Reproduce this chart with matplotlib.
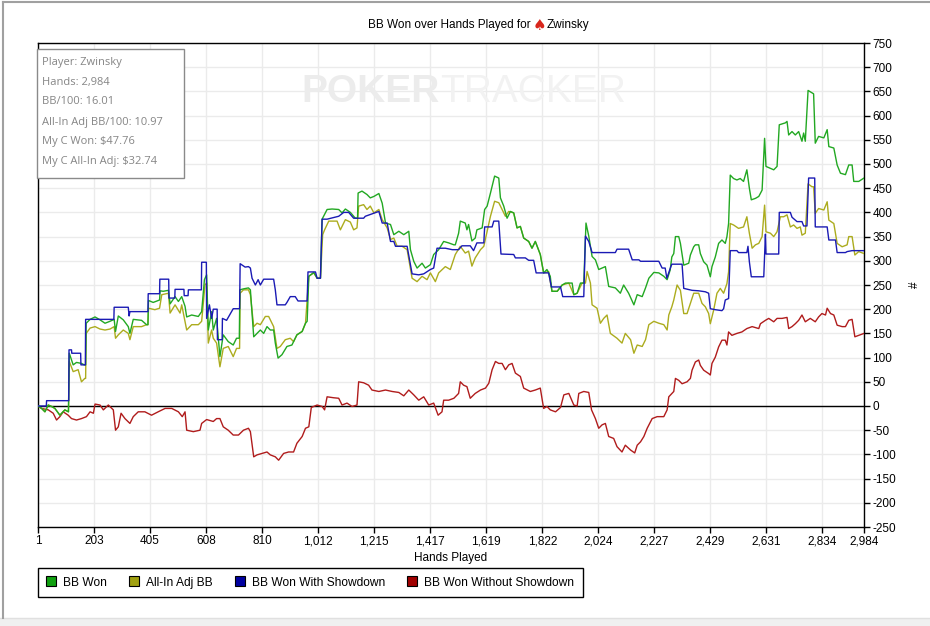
import matplotlib
matplotlib.use("Agg")
import matplotlib.pyplot as plt
from matplotlib.lines import Line2D
from matplotlib.patches import Rectangle

# (hand, BB) points
bb_won = [
    (1, 0), (14, -5), (26, -12), (38, 2), (50, -1), (62, -5), (80, -19), (98, -8), (111, -12), (114, 109),
    (128, 85), (140, 90), (158, 88), (168, 85), (173, 85), (175, 171), (189, 179), (207, 184), (225, 178),
    (243, 171), (261, 175), (276, 179), (281, 154), (291, 186), (309, 178), (327, 164), (333, 150), (345, 179),
    (375, 177), (393, 168), (398, 168), (400, 218), (417, 214), (440, 219), (442, 238), (453, 237), (472, 239),
    (478, 211), (496, 226), (508, 216), (520, 226), (532, 206), (538, 184), (556, 188), (580, 185), (592, 195),
    (602, 261), (610, 271), (616, 157), (628, 195), (634, 157), (646, 181), (658, 102), (670, 147), (688, 133),
    (706, 126), (718, 140), (728, 140), (730, 240), (743, 242), (761, 244),
    (768, 240), (780, 143), (792, 150), (804, 157), (816, 150), (828, 164), (840, 157), (852, 157), (858, 130),
    (868, 99), (882, 106), (900, 123), (918, 126), (936, 147), (955, 154), (967, 171), (973, 175), (979, 268),
    (997, 276), (1009, 264), (1021, 264), (1027, 386), (1045, 406), (1063, 407), (1087, 406), (1099, 399),
    (1111, 407), (1129, 400), (1147, 388), (1155, 388), (1157, 440), (1171, 444), (1189, 437), (1201, 430),
    (1214, 433), (1232, 439), (1244, 419), (1256, 378), (1274, 375), (1286, 354), (1304, 361), (1322, 354),
    (1340, 361), (1346, 323), (1358, 299), (1370, 285), (1388, 295), (1400, 285), (1418, 292), (1430, 313),
    (1448, 323), (1466, 340), (1484, 337), (1503, 333),
    (1508, 333), (1520, 357), (1526, 382), (1544, 378), (1550, 364), (1556, 375), (1568, 341), (1580, 347),
    (1586, 364), (1605, 368), (1614, 406), (1623, 413), (1635, 440), (1650, 475), (1665, 471), (1671, 430),
    (1683, 413), (1695, 388), (1707, 402), (1719, 399), (1731, 368), (1743, 371), (1755, 347), (1773, 340),
    (1785, 326), (1797, 340), (1815, 313), (1827, 275), (1839, 282), (1851, 268), (1857, 237), (1876, 237),
    (1894, 250), (1906, 254), (1930, 254), (1936, 230), (1948, 233), (1960, 254), (1972, 254), (1980, 378),
    (1990, 351), (2002, 309), (2014, 302), (2026, 282), (2038, 285), (2050, 288), (2062, 247), (2086, 244),
    (2104, 233), (2116, 250), (2134, 233), (2153, 209), (2165, 230), (2183, 226), (2195, 244), (2207, 264),
    (2225, 276), (2243, 275), (2261, 268), (2273, 261),
    (2284, 281), (2290, 308), (2297, 315), (2303, 350), (2315, 350), (2321, 336), (2333, 291), (2351, 295),
    (2357, 312), (2369, 329), (2375, 333), (2387, 333), (2393, 315), (2405, 298), (2417, 291), (2429, 267),
    (2435, 288), (2447, 308), (2459, 336), (2471, 343), (2483, 336), (2489, 350), (2495, 377), (2501, 477),
    (2513, 470), (2525, 467), (2537, 470), (2549, 464), (2561, 488), (2570, 450), (2577, 426), (2592, 429),
    (2604, 433), (2616, 446), (2625, 553), (2630, 495), (2646, 491), (2658, 488), (2670, 495), (2678, 581),
    (2700, 585), (2706, 588), (2712, 560), (2724, 567), (2736, 560), (2748, 567), (2760, 547), (2766, 564),
    (2772, 547), (2782, 652), (2802, 645), (2808, 543), (2820, 557), (2839, 554), (2851, 571), (2857, 536),
    (2875, 533), (2887, 498), (2899, 481), (2917, 478), (2929, 498), (2941, 498), (2947, 464), (2965, 464),
    (2984, 471),
]

allin_adj = [
    (1, 0), (14, -5), (26, -12), (38, 2), (50, -1), (62, -5), (80, -19), (98, -8), (111, -12), (114, 92),
    (128, 71), (146, 75), (158, 50), (170, 57), (173, 57), (175, 150), (189, 161), (207, 164), (225, 159),
    (243, 157), (261, 159), (276, 164), (281, 140), (291, 147), (309, 157), (327, 150), (333, 137), (345, 164),
    (375, 164), (393, 168), (398, 168), (400, 202), (423, 199), (440, 202), (448, 230), (472, 233), (478, 192),
    (496, 209), (514, 192), (520, 209), (538, 157), (556, 168), (580, 168), (592, 175), (604, 250), (610, 254),
    (616, 130), (628, 157), (634, 140), (646, 130), (658, 81), (670, 119), (688, 123), (706, 102), (718, 119),
    (729, 119), (731, 233), (743, 240), (761, 240),
    (768, 230), (780, 164), (792, 171), (804, 168), (822, 185), (834, 185), (846, 171), (852, 164), (864, 119),
    (876, 123), (894, 137), (912, 140), (924, 133), (936, 147), (955, 154), (967, 171), (979, 268), (997, 275),
    (1009, 264), (1021, 264), (1029, 354), (1036, 364), (1051, 382), (1081, 382), (1093, 364), (1111, 385),
    (1129, 380), (1141, 364), (1153, 368), (1159, 413), (1177, 416), (1189, 406), (1201, 413), (1214, 399),
    (1232, 406), (1244, 385), (1262, 368), (1274, 344), (1286, 347), (1298, 330), (1316, 330), (1334, 323),
    (1352, 264), (1370, 257), (1388, 268), (1406, 261), (1418, 275), (1436, 257), (1448, 275), (1472, 288),
    (1490, 282),
    (1508, 313), (1526, 330), (1544, 316), (1556, 320), (1568, 289), (1580, 306), (1599, 323), (1611, 330),
    (1623, 361), (1635, 392), (1650, 423), (1665, 420), (1677, 406), (1689, 392), (1701, 402), (1719, 399),
    (1731, 368), (1743, 371), (1755, 347), (1773, 340), (1785, 326), (1797, 340), (1815, 313), (1827, 275),
    (1845, 278), (1857, 237), (1876, 237), (1894, 250), (1918, 254), (1936, 230), (1948, 233), (1966, 254),
    (1978, 254), (1984, 278), (1996, 254), (2002, 209), (2020, 202), (2032, 171), (2044, 181), (2056, 188),
    (2068, 150), (2092, 140), (2110, 130), (2122, 150), (2141, 137), (2153, 109), (2165, 126), (2183, 123),
    (2195, 137), (2207, 168), (2225, 175), (2243, 171), (2261, 168), (2273, 157),
    (2279, 188), (2290, 205), (2297, 219), (2309, 250), (2321, 239), (2333, 191), (2345, 191), (2357, 212),
    (2369, 233), (2387, 233), (2399, 212), (2411, 205), (2423, 191), (2429, 170), (2441, 198), (2453, 233),
    (2465, 243), (2477, 233), (2489, 253), (2495, 277), (2501, 377), (2513, 374), (2531, 367), (2549, 370),
    (2561, 391), (2570, 357), (2580, 326), (2592, 333), (2604, 336), (2616, 350), (2625, 415), (2630, 360),
    (2646, 357), (2658, 350), (2670, 360), (2682, 391), (2694, 391), (2706, 395), (2718, 370), (2730, 374),
    (2742, 367), (2754, 370), (2760, 353), (2772, 357), (2782, 459), (2796, 453), (2802, 453), (2808, 398),
    (2820, 408), (2839, 405), (2851, 422), (2857, 384), (2875, 377), (2887, 336), (2905, 329), (2923, 333),
    (2929, 350), (2941, 350), (2951, 312), (2965, 319), (2984, 315),
]

with_showdown = [
    (1, 0), (31, 0), (32, 11), (112, 11), (113, 116), (122, 116), (123, 109), (155, 109), (156, 85), (172, 85),
    (173, 179), (275, 179), (276, 204), (327, 204), (330, 186), (333, 195), (398, 195), (399, 232), (440, 232),
    (441, 262), (473, 262), (474, 223), (495, 223), (496, 241), (528, 241), (529, 228), (543, 228), (544, 240),
    (591, 240), (592, 297), (609, 297), (610, 181), (620, 209), (628, 181), (634, 200), (648, 200), (649, 137),
    (666, 137), (667, 181), (682, 177), (706, 201), (729, 201), (731, 294), (749, 287), (761, 288),
    (768, 285), (774, 264), (786, 250), (796, 261), (804, 250), (816, 262), (852, 262), (858, 240), (864, 209),
    (894, 209), (900, 214), (912, 226), (930, 226), (940, 217), (973, 217), (976, 277), (1003, 277), (1009, 264),
    (1021, 264), (1027, 386), (1045, 386), (1087, 392), (1105, 400), (1123, 400), (1141, 388), (1177, 388),
    (1183, 392), (1232, 402), (1244, 378), (1262, 378), (1274, 340), (1286, 340), (1292, 330), (1334, 330),
    (1352, 273), (1376, 271), (1394, 273), (1418, 282), (1430, 285), (1442, 326), (1472, 326), (1497, 323),
    (1520, 323), (1532, 331), (1562, 331), (1574, 321), (1586, 337), (1611, 337), (1614, 370), (1641, 370),
    (1647, 382), (1665, 382), (1673, 314), (1719, 313), (1725, 306), (1761, 306), (1773, 301), (1791, 301),
    (1800, 275), (1845, 275), (1855, 246), (1888, 246), (1896, 226), (1972, 226), (1978, 351), (1990, 340),
    (2002, 317), (2086, 317), (2092, 324), (2134, 324), (2147, 302), (2171, 302), (2177, 299), (2243, 299),
    (2255, 285), (2266, 285), (2272, 264),
    (2284, 284), (2290, 293), (2327, 293), (2333, 243), (2363, 239), (2387, 238), (2411, 236), (2423, 233),
    (2429, 201), (2447, 199), (2471, 197), (2477, 201), (2483, 219), (2495, 222), (2501, 321), (2525, 321),
    (2531, 317), (2561, 317), (2565, 330), (2570, 298), (2577, 267), (2622, 267), (2628, 355), (2630, 314),
    (2676, 314), (2678, 400), (2718, 400), (2724, 390), (2742, 381), (2760, 381), (2766, 372), (2778, 372),
    (2784, 471), (2806, 471), (2808, 370), (2851, 370), (2857, 343), (2881, 343), (2887, 317), (2917, 317),
    (2923, 319), (2941, 321), (2984, 321),
]

without_showdown = [
    (1, 0), (14, -5), (38, -8), (56, -15), (68, -29), (80, -22), (92, -12), (110, -19), (122, -26), (140, -29),
    (158, -26), (176, -22), (189, -12), (201, -15), (207, 4), (225, 2), (237, -8), (255, 2), (273, -8),
    (281, -50), (291, -43), (301, -15), (315, -26), (333, -36), (345, -22), (363, -12), (387, -12), (411, -19),
    (435, -12), (460, -5), (484, -5), (508, -12), (522, -22), (532, -12), (538, -50), (562, -53), (586, -50),
    (592, -36), (610, -28), (634, -32), (646, -26), (658, -26), (670, -43), (688, -50), (706, -60), (725, -60),
    (743, -50), (761, -46),
    (768, -53), (780, -105), (792, -101), (810, -98), (828, -95), (840, -101), (858, -105), (870, -112),
    (888, -98), (906, -95), (924, -95), (936, -77), (955, -63), (967, -46), (979, -43), (988, -3), (1009, 2),
    (1027, -1), (1036, -8), (1045, 19), (1069, 17), (1087, 16), (1099, 2), (1117, 6), (1135, -1), (1153, 2),
    (1159, 50), (1177, 48), (1195, 43), (1207, 33), (1232, 30), (1256, 33), (1280, 30), (1304, 28), (1322, 21),
    (1340, 33), (1358, 23), (1376, 12), (1394, 19), (1412, 2), (1430, 6), (1446, -19), (1460, -12), (1466, 12),
    (1484, 12), (1503, 16),
    (1520, 26), (1526, 50), (1538, 43), (1550, 40), (1562, 16), (1580, 26), (1599, 33), (1617, 37), (1629, 47),
    (1641, 75), (1653, 92), (1665, 88), (1677, 88), (1689, 75), (1701, 85), (1713, 88), (1725, 68), (1743, 61),
    (1755, 37), (1779, 30), (1797, 33), (1815, 37), (1827, -5), (1839, -1), (1851, -8), (1870, -12), (1888, -3),
    (1900, 23), (1918, 26), (1936, 2), (1948, 0), (1954, 26), (1972, 30), (1990, 28), (2000, -8), (2014, -26),
    (2026, -46), (2038, -39), (2050, -36), (2062, -63), (2080, -67), (2092, -84), (2110, -95), (2122, -81),
    (2141, -91), (2156, -97), (2165, -81), (2177, -74), (2189, -63), (2201, -46), (2219, -26), (2237, -22),
    (2261, -22), (2273, -8), (2279, 19),
    (2297, 30), (2303, 57), (2315, 53), (2327, 46), (2345, 50), (2357, 57), (2363, 74), (2375, 91), (2387, 95),
    (2393, 84), (2405, 74), (2423, 67), (2429, 64), (2435, 88), (2447, 101), (2459, 122), (2471, 136),
    (2483, 136), (2489, 126), (2495, 153), (2507, 146), (2525, 150), (2543, 153), (2561, 160), (2580, 164),
    (2604, 160), (2610, 170), (2628, 177), (2640, 181), (2658, 174), (2670, 181), (2688, 181), (2706, 183),
    (2712, 160), (2724, 164), (2736, 170), (2748, 177), (2760, 188), (2772, 174), (2790, 181), (2808, 174),
    (2820, 184), (2832, 191), (2845, 188), (2851, 202), (2863, 191), (2875, 188), (2887, 167), (2905, 164),
    (2917, 164), (2929, 177), (2941, 179), (2951, 143), (2965, 146), (2984, 150),
]

x_ticks = [1, 203, 405, 608, 810, 1012, 1215, 1417, 1619, 1822, 2024, 2227, 2429, 2631, 2834, 2984]
y_ticks = list(range(-250, 751, 50))

info_lines = [
    "Player: Zwinsky",
    "Hands: 2,984",
    "BB/100: 16.01",
    "All-In Adj BB/100: 10.97",
    "My C Won: $47.76",
    "My C All-In Adj: $32.74",
]

series = [
    ("BB Won Without Showdown", without_showdown, "#b01c1c", "#a00000"),
    ("All-In Adj BB", allin_adj, "#acac1e", "#a0a010"),
    ("BB Won", bb_won, "#22a822", "#10a010"),
    ("BB Won With Showdown", with_showdown, "#1a1ab4", "#0000a0"),
]
legend_order = ["BB Won", "All-In Adj BB", "BB Won With Showdown", "BB Won Without Showdown"]

plt.rcParams["font.family"] = ["Liberation Sans", "DejaVu Sans"]
plt.rcParams["axes.unicode_minus"] = False

W, H = 930, 626


def fx(px):
    return px / W


def fy(py):
    return 1 - py / H


fig = plt.figure(figsize=(W / 100, H / 100), dpi=100)

# window chrome
fig.add_artist(Rectangle((0, 0), 1, fy(618), transform=fig.transFigure,
                         facecolor="#f0f0f0", edgecolor="none"))
fig.add_artist(Line2D([0, 1], [fy(618), fy(618)], color="#e0e0e0", lw=1, transform=fig.transFigure))
fig.add_artist(Line2D([fx(3), fx(3)], [fy(618), fy(2)], color="#a0a0a0", lw=1.5, transform=fig.transFigure))
fig.add_artist(Line2D([fx(3), 1], [fy(2), fy(2)], color="#a0a0a0", lw=1.5, transform=fig.transFigure))

ax = fig.add_axes([fx(38), fy(527), fx(864) - fx(38), fy(43) - fy(527)])

# watermark
ax.text(fx(440), fy(92), "POKER", transform=fig.transFigure, ha="right", va="center",
        fontsize=28, fontweight="bold", color="#ececec", zorder=0.6,
        family=["Liberation Sans Narrow", "Liberation Sans"])
ax.text(fx(440), fy(92), "TRACKER", transform=fig.transFigure, ha="left", va="center",
        fontsize=28, color="#f2f2f2", zorder=0.6,
        family=["Liberation Sans Narrow", "Liberation Sans"])

handles = {}
for i, (name, pts, line_c, mark_c) in enumerate(series):
    hx = [p[0] for p in pts]
    hy = [p[1] for p in pts]
    ax.plot(hx, hy, color=line_c, lw=1.0, zorder=3 + i)
    handles[name] = Line2D([], [], marker="s", linestyle="none", markersize=6.5,
                           markerfacecolor=mark_c, markeredgecolor="black", markeredgewidth=0.8)

ax.axhline(0, color="black", lw=1, zorder=2.5)

ax.set_xlim(1, 2984)
ax.set_ylim(-250, 750)
ax.set_xticks(x_ticks)
ax.set_xticklabels([f"{t:,}" for t in x_ticks])
ax.set_yticks(y_ticks)
ax.yaxis.tick_right()
ax.tick_params(axis="both", direction="out", length=4, width=1, colors="black",
               labelsize=8.5, pad=2)
ax.grid(True, color="#ebebeb", lw=1)
ax.set_axisbelow(True)
for s in ax.spines.values():
    s.set_color("black")
    s.set_linewidth(1)

ax.set_xlabel("Hands Played", fontsize=8.5, labelpad=3)
ax.yaxis.set_label_position("right")
ax.set_ylabel("#", fontsize=8.5, rotation=90, labelpad=9)

# title with red spade
ty = fy(25)
fig.text(fx(531), ty, "BB Won over Hands Played for", ha="right", va="center", fontsize=8.5)
fig.text(fx(539), ty, "\u2660", ha="center", va="center", fontsize=11, color="#d8261c",
         family="DejaVu Sans")
fig.text(fx(547), ty, "Zwinsky", ha="left", va="center", fontsize=8.5)

# stats box
ax.add_patch(Rectangle((fx(37), fy(178)), fx(184) - fx(37), fy(49) - fy(178), transform=fig.transFigure,
                       facecolor="white", edgecolor="#8a8a8a", lw=1, zorder=8, clip_on=False))
for i, line in enumerate(info_lines):
    ax.text(fx(42), fy(62 + 20 * i), line, transform=fig.transFigure, ha="left", va="center",
            fontsize=8, color="#858585", family=["Open Sans", "DejaVu Sans"], zorder=9)

leg = fig.legend([handles[n] for n in legend_order], legend_order, loc="upper left",
                 bbox_to_anchor=(fx(38), fy(568)), ncol=4, frameon=True, fancybox=False,
                 edgecolor="black", framealpha=1, fontsize=8.65, handlelength=0.8,
                 handletextpad=0.6, columnspacing=1.85, borderpad=0.72, borderaxespad=0)
leg.get_frame().set_linewidth(1)

fig.savefig("out.png", dpi=100)
